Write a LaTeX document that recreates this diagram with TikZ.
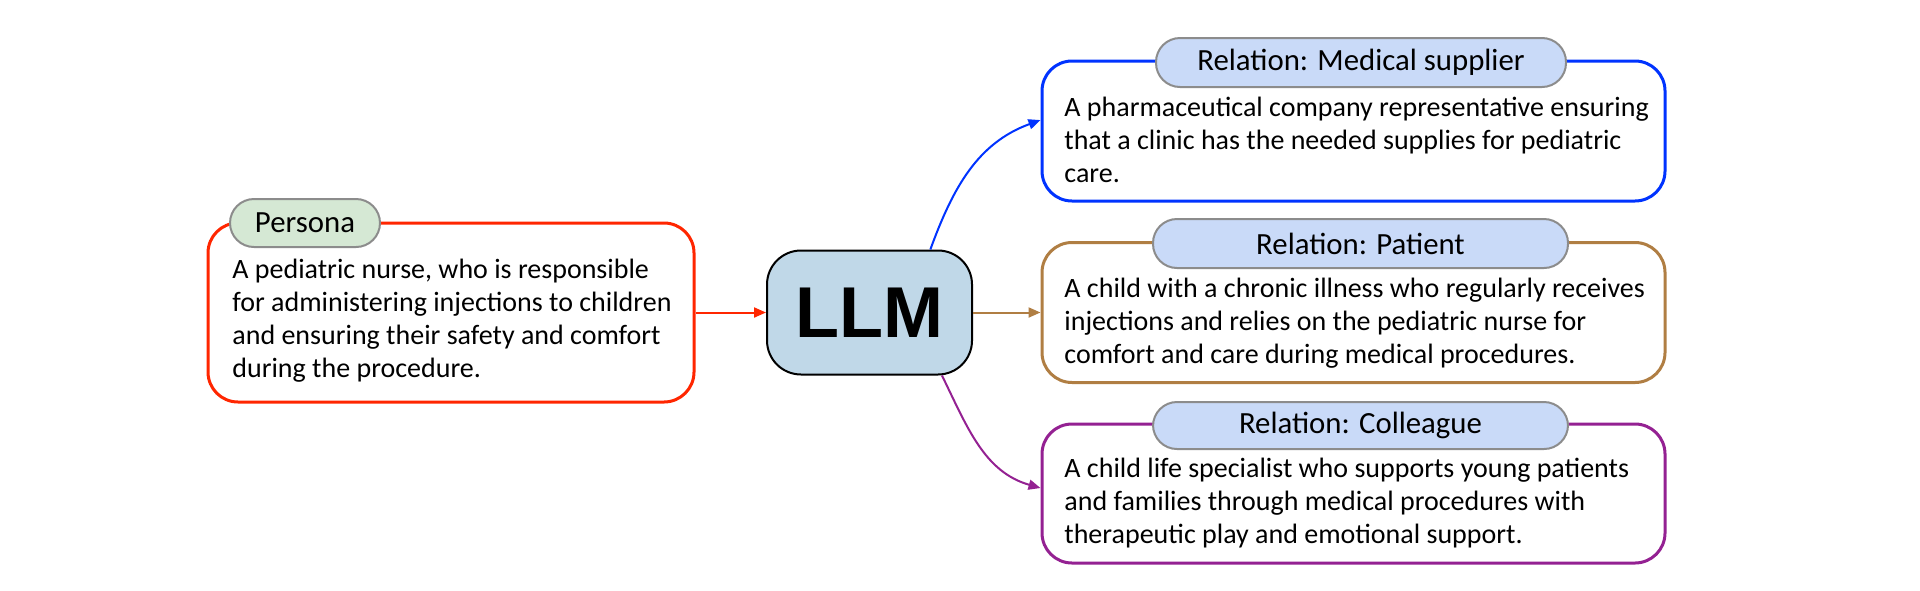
\documentclass[tikz,border=0pt]{standalone}
\usepackage{fontspec}
\setmainfont{Carlito}
\newfontfamily\llmfont{Liberation Sans}
\usetikzlibrary{arrows.meta}
\definecolor{cred}{RGB}{255,38,0}
\definecolor{cblue}{RGB}{0,51,255}
\definecolor{cbrown}{RGB}{176,126,67}
\definecolor{cpurple}{RGB}{148,33,146}
\definecolor{tagblue}{RGB}{201,218,248}
\definecolor{taggreen}{RGB}{213,232,212}
\definecolor{taggray}{RGB}{140,140,140}
\definecolor{llmfill}{RGB}{192,216,232}
\begin{document}
\begin{tikzpicture}[x=0.5pt,y=-0.5pt,
  box/.style={draw, line width=1.5pt, rounded corners=15pt, fill=white, inner sep=0pt},
  tag/.style={draw=taggray, line width=1pt, rounded corners=12pt, inner sep=0pt,
    font=\fontsize{15.4}{17}\selectfont},
  body/.style={anchor=base west, align=left, inner sep=0pt,
    font=\fontsize{14}{16.5}\selectfont},
  conn/.style={line width=1pt, -{Triangle[length=6pt,width=5pt]}},
]
\useasboundingbox (0,0) rectangle (1920,590);

% Persona
\node[box, draw=cred, minimum width=243pt, minimum height=89.5pt] (persona) at (451,312.5) {};
\node[tag, fill=taggreen, minimum width=75pt, minimum height=24pt] (personatag) at (305,223) {Persona};
\node[body] (personatext) at (232,377) {A pediatric nurse, who is responsible\\for administering injections to children\\and ensuring their safety and comfort\\during the procedure.};

% LLM
\node[draw, line width=1pt, fill=llmfill, rounded corners=17pt, minimum width=102.5pt, minimum height=62pt,
  font=\llmfont\bfseries\fontsize{36}{40}\selectfont] (llm) at (869.5,312.5) {LLM};

% Medical supplier
\node[box, draw=cblue, minimum width=311.5pt, minimum height=70pt] (supplier) at (1353.5,131) {};
\node[tag, fill=tagblue, minimum width=205pt, minimum height=24.5pt] (suppliertag) at (1361,62.5) {Relation: Medical supplier};
\node[body] (suppliertext) at (1064,182) {A pharmaceutical company representative ensuring\\that a clinic has the needed supplies for pediatric\\care.};

% Patient
\node[box, draw=cbrown, minimum width=311.5pt, minimum height=70pt] (patient) at (1353.5,312.5) {};
\node[tag, fill=tagblue, minimum width=207.5pt, minimum height=24.5pt] (patienttag) at (1360.5,243.5) {Relation: Patient};
\node[body] (patienttext) at (1064,363) {A child with a chronic illness who regularly receives\\injections and relies on the pediatric nurse for\\comfort and care during medical procedures.};

% Colleague
\node[box, draw=cpurple, minimum width=311.5pt, minimum height=69.5pt] (colleague) at (1353.5,493.5) {};
\node[tag, fill=tagblue, minimum width=207.5pt, minimum height=23.5pt] (colleaguetag) at (1360.5,425.5) {Relation: Colleague};
\node[body] (colleaguetext) at (1064,543) {A child life specialist who supports young patients\\and families through medical procedures with\\therapeutic play and emotional support.};

% connectors
\draw[conn, cred] (persona.east) -- (llm.west);
\draw[conn, cbrown] (llm.east) -- (patient.west);
\draw[conn, cblue] (llm.46) to[out=70, in=200] (supplier.178.4);
\draw[conn, cpurple] (llm.-41) to[out=-64, in=164] (colleague.179);
\end{tikzpicture}
\end{document}
